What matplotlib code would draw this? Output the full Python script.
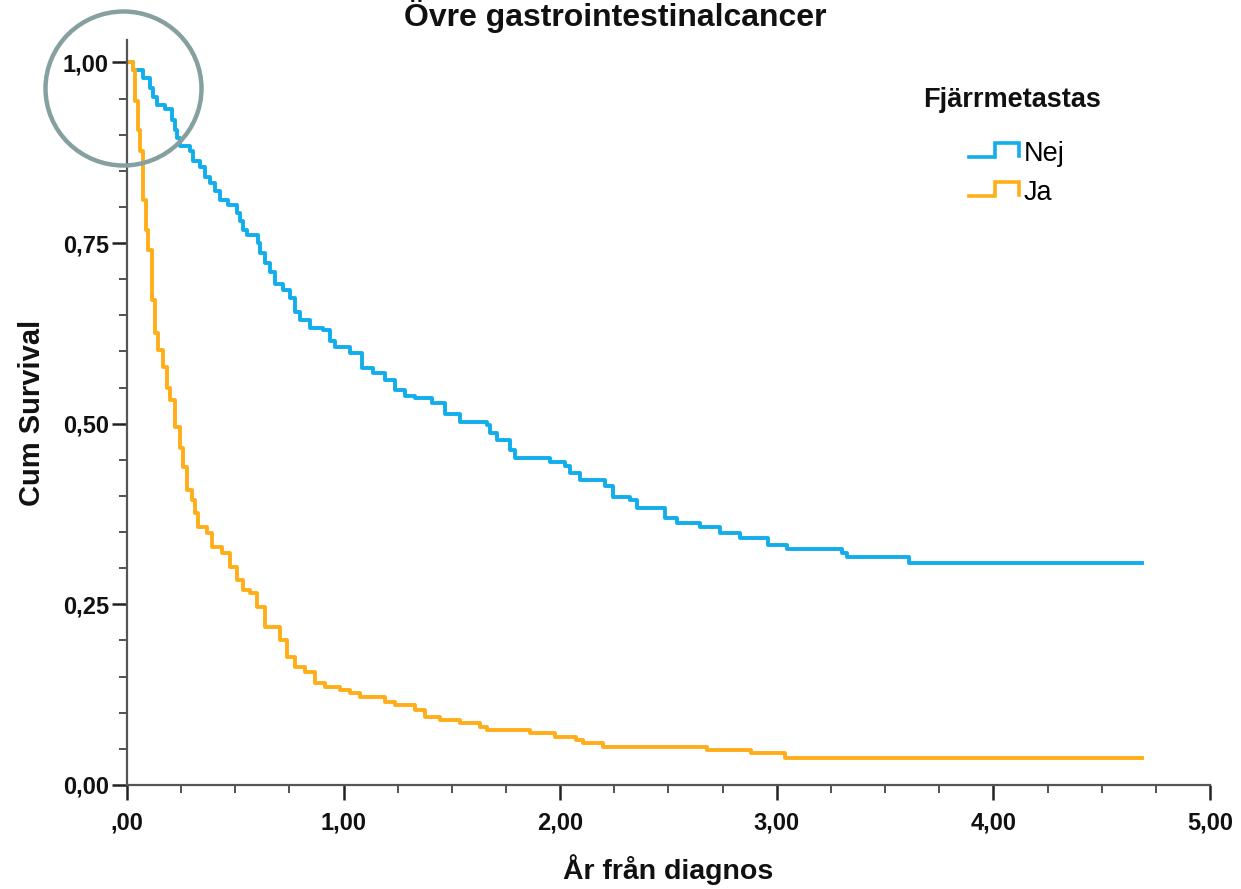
import matplotlib
matplotlib.use("Agg")
import matplotlib.pyplot as plt
from matplotlib.lines import Line2D
from matplotlib.legend_handler import HandlerBase
from matplotlib.patches import Ellipse
import numpy as np

plt.rcParams['font.family'] = ['Liberation Sans', 'DejaVu Sans']

# Kaplan-Meier steps (years, cum survival)
nej_t = [0.000, 0.028, 0.074, 0.106, 0.120, 0.139, 0.175, 0.208, 0.222, 0.231,
         0.245, 0.291, 0.305, 0.337, 0.360, 0.383, 0.406, 0.429, 0.466, 0.508,
         0.522, 0.536, 0.554, 0.605, 0.614, 0.637, 0.660, 0.683, 0.720, 0.753,
         0.776, 0.799, 0.845, 0.905, 0.937, 0.960, 1.029, 1.085, 1.136, 1.191,
         1.237, 1.283, 1.330, 1.408, 1.468, 1.537, 1.662, 1.676, 1.708, 1.768,
         1.791, 1.953, 2.022, 2.045, 2.091, 2.207, 2.244, 2.322, 2.355, 2.484,
         2.539, 2.645, 2.738, 2.830, 2.959, 3.047, 3.301, 3.324, 3.610, 4.686]
nej_s = [1.000, 0.989, 0.978, 0.965, 0.952, 0.941, 0.936, 0.920, 0.906, 0.896,
         0.885, 0.878, 0.864, 0.855, 0.841, 0.833, 0.822, 0.809, 0.802, 0.791,
         0.781, 0.768, 0.761, 0.750, 0.736, 0.722, 0.710, 0.694, 0.685, 0.674,
         0.654, 0.643, 0.633, 0.629, 0.615, 0.606, 0.598, 0.577, 0.570, 0.560,
         0.546, 0.539, 0.535, 0.528, 0.514, 0.502, 0.498, 0.487, 0.477, 0.463,
         0.452, 0.447, 0.441, 0.432, 0.422, 0.414, 0.398, 0.394, 0.383, 0.369,
         0.362, 0.357, 0.349, 0.342, 0.332, 0.326, 0.321, 0.315, 0.307, 0.307]

ja_t = [0.000, 0.028, 0.037, 0.051, 0.060, 0.074, 0.088, 0.097, 0.115, 0.129,
        0.143, 0.166, 0.185, 0.199, 0.222, 0.245, 0.259, 0.277, 0.300, 0.314,
        0.328, 0.369, 0.392, 0.439, 0.476, 0.508, 0.536, 0.568, 0.600, 0.637,
        0.706, 0.739, 0.776, 0.822, 0.868, 0.914, 0.983, 1.029, 1.076, 1.191,
        1.237, 1.330, 1.376, 1.445, 1.537, 1.630, 1.662, 1.861, 1.976, 2.073,
        2.105, 2.198, 2.678, 2.881, 3.038, 4.686]
ja_s = [1.000, 0.989, 0.947, 0.906, 0.878, 0.809, 0.768, 0.740, 0.671, 0.625,
        0.602, 0.578, 0.550, 0.533, 0.495, 0.467, 0.440, 0.408, 0.394, 0.376,
        0.357, 0.349, 0.329, 0.321, 0.302, 0.284, 0.270, 0.266, 0.246, 0.219,
        0.201, 0.177, 0.163, 0.156, 0.141, 0.136, 0.131, 0.127, 0.122, 0.115,
        0.111, 0.104, 0.094, 0.090, 0.086, 0.080, 0.076, 0.072, 0.066, 0.062,
        0.058, 0.053, 0.048, 0.044, 0.037, 0.037]

xticks = [0, 1, 2, 3, 4, 5]
xtick_labels = [',00', '1,00', '2,00', '3,00', '4,00', '5,00']
yticks = [0, 0.25, 0.5, 0.75, 1.0]
ytick_labels = ['0,00', '0,25', '0,50', '0,75', '1,00']

BLUE = '#12AEEB'
ORANGE = '#FFAE1A'


class StepHandler(HandlerBase):
    def create_artists(self, legend, orig_handle, xdescent, ydescent,
                       width, height, fontsize, trans):
        x = np.array([0, 0.52, 0.52, 1.0, 1.0]) * width - xdescent
        y = np.array([0.2, 0.2, 0.95, 0.95, 0.25]) * height - ydescent
        ln = Line2D(x, y, color=orig_handle.get_color(), lw=2.6,
                    solid_joinstyle='miter')
        ln.set_transform(trans)
        return [ln]


fig = plt.figure(figsize=(12.41, 8.89), dpi=100)
ax = fig.add_axes([0.1023, 0.117, 0.8727, 0.838])

l1, = ax.step(nej_t, nej_s, where='post', color=BLUE, lw=2.8, label='Nej')
l2, = ax.step(ja_t, ja_s, where='post', color=ORANGE, lw=2.8, label='Ja')

ax.set_xlim(0, 5)
ax.set_ylim(0, 1.031)
for s in ['top', 'right']:
    ax.spines[s].set_visible(False)
for s in ['left', 'bottom']:
    ax.spines[s].set_color('#555555')
    ax.spines[s].set_linewidth(1.6)

ax.set_xticks(xticks)
ax.set_xticklabels(xtick_labels)
ax.set_yticks(yticks)
ax.set_yticklabels(ytick_labels)
ax.set_xticks(np.arange(0, 5.01, 0.25), minor=True)
ax.set_yticks(np.arange(0, 1.001, 0.05), minor=True)
ax.tick_params(axis='both', which='major', length=11, width=1.8, color='#222222',
               labelsize=17)
ax.tick_params(axis='both', which='minor', length=6, width=1.2, color='#333333')
ax.tick_params(axis='x', which='major', pad=8)
ax.tick_params(axis='y', which='major', pad=2)
for lab in ax.get_xticklabels() + ax.get_yticklabels():
    lab.set_fontweight('bold')
    lab.set_color('#111111')

ax.set_xlabel('År från diagnos', fontsize=20.5, fontweight='bold', labelpad=14,
              color='#111111')
ax.set_ylabel('Cum Survival', fontsize=21, fontweight='bold', labelpad=12,
              color='#111111')

fig.text(0.496, 0.971, 'Övre gastrointestinalcancer', ha='center', va='baseline',
         fontsize=23, fontweight='bold', color='#111111')

# legend title as its own text, entries below it
fig.text(0.8155, 0.8875, 'Fjärrmetastas', ha='center', va='center',
         fontsize=19.5, fontweight='bold', color='#111111')
leg = fig.legend(handles=[l1, l2], labels=['Nej', 'Ja'], loc='upper left',
                 bbox_to_anchor=(0.770, 0.857), frameon=False, fontsize=19.5,
                 borderpad=0, handler_map={Line2D: StepHandler()},
                 handlelength=1.85, handletextpad=0.15, labelspacing=0.5)

circle = Ellipse((123.5 / 1241, 1 - 88.5 / 889), 156 / 1241, 154 / 889,
                 transform=fig.transFigure, fill=False, edgecolor='#86A0A0',
                 lw=3.2, zorder=10)
fig.add_artist(circle)

fig.savefig('out.png', dpi=100)
